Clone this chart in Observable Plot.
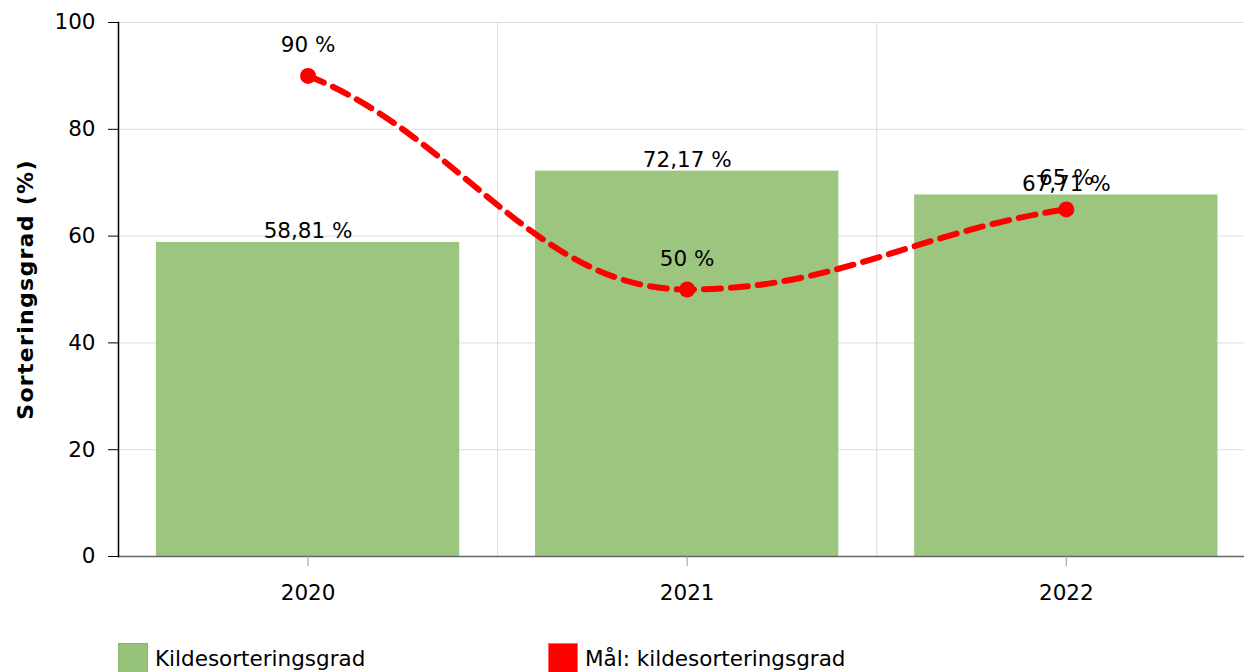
<!DOCTYPE html>
<html><head><meta charset="utf-8">
<script src="https://cdn.jsdelivr.net/npm/d3@7"></script>
<script src="https://cdn.jsdelivr.net/npm/@observablehq/plot@0.6"></script>
<style>
body{margin:0;overflow:hidden;background:#fff;font-family:"DejaVu Sans",Verdana,sans-serif;}
#wrap{position:relative;width:1244px;height:672px;overflow:hidden;}
#legend{position:absolute;top:643px;left:0;width:1244px;height:40px;font-size:21.5px;color:#000;}
.item{position:absolute;display:flex;align-items:center;gap:7px;}
.sw{width:30px;height:30px;box-sizing:border-box;}
.ylab text{letter-spacing:1.3px;}
</style>
</head><body>
<div id="wrap"><div id="chart"></div><div id="legend"></div></div>
<script>
const years = [2020, 2021, 2022];
const actual = [58.81, 72.17, 67.71];
const target = [90, 50, 65];
const yTicks = [0, 20, 40, 60, 80, 100];
const seriesNames = ["Kildesorteringsgrad", "Mål: kildesorteringsgrad"];
const seriesColors = ["#97c279", "#ff0000"];
const yLabel = "Sorteringsgrad (%)";

const data = years.map((y, i) => ({year: y, actual: actual[i], target: target[i]}));
const fmt = v => (Number.isInteger(v) ? String(v) : v.toFixed(2).replace(".", ",")) + " %";
const boundaries = years.slice(1).map(y => y - 0.5);
const FS = 21.5;

// Smooth spline curve (control points at 1/2.5 toward neighbours, flattened at extremes)
function SplineCurve(context) { this._context = context; }
SplineCurve.prototype = {
  areaStart() {}, areaEnd() {},
  lineStart() { this._pts = []; },
  point(x, y) { this._pts.push([+x, +y]); },
  lineEnd() {
    const p = this._pts, c = this._context, n = p.length;
    if (!n) return;
    const s = 1.5, den = s + 1, e = 0.7, L = [], R = [];
    for (let i = 0; i < n; i++) {
      const [x, y] = p[i];
      if (i > 0 && i < n - 1) {
        const [lx, ly] = p[i - 1], [nx, ny] = p[i + 1];
        let lcx = (s * x + lx) / den, lcy = (s * y + ly) / den;
        let rcx = (s * x + nx) / den, rcy = (s * y + ny) / den;
        let corr = 0;
        if (rcx !== lcx) corr = ((rcy - lcy) * (rcx - x)) / (rcx - lcx) + y - rcy;
        lcy += corr; rcy += corr;
        if (lcy > ly && lcy > y) { lcy = Math.max(ly, y); rcy = 2 * y - lcy; }
        else if (lcy < ly && lcy < y) { lcy = Math.min(ly, y); rcy = 2 * y - lcy; }
        if (rcy > ny && rcy > y) { rcy = Math.max(ny, y); lcy = 2 * y - rcy; }
        else if (rcy < ny && rcy < y) { rcy = Math.min(ny, y); lcy = 2 * y - rcy; }
        L[i] = [lcx, lcy]; R[i] = [rcx, rcy];
      } else if (i === 0 && n > 1) {
        const [nx, ny] = p[1];
        R[i] = [x + (nx - x) / den, y + e * (ny - y) / den]; L[i] = [x, y];
      } else if (i === n - 1 && n > 1) {
        const [lx, ly] = p[i - 1];
        L[i] = [x - (x - lx) / den, y - e * (y - ly) / den]; R[i] = [x, y];
      } else { L[i] = [x, y]; R[i] = [x, y]; }
    }
    c.moveTo(p[0][0], p[0][1]);
    for (let i = 1; i < n; i++) c.bezierCurveTo(R[i - 1][0], R[i - 1][1], L[i][0], L[i][1], p[i][0], p[i][1]);
  }
};
const splineCurve = ctx => new SplineCurve(ctx);

const chart = Plot.plot({
  width: 1244, height: 620,
  marginLeft: 118, marginRight: 0, marginTop: 22, marginBottom: 64,
  style: {fontFamily: '"DejaVu Sans", Verdana, sans-serif', fontSize: FS + "px", background: "#fff", overflow: "visible"},
  x: {type: "linear", domain: [years[0] - 0.5, years[years.length - 1] + 0.47], axis: null},
  y: {domain: [0, 100], axis: null},
  marks: [
    Plot.gridY(yTicks.slice(1), {stroke: "#dcdcdc", strokeOpacity: 1}),
    Plot.gridX(boundaries, {stroke: "#dcdcdc", strokeOpacity: 1}),
    Plot.rectY(data, {x1: d => d.year - 0.4, x2: d => d.year + 0.4, y: "actual", fill: seriesColors[0], fillOpacity: 0.95}),
    Plot.text(data, {x: "year", y: "actual", text: d => fmt(d.actual), lineAnchor: "bottom", dy: -4, fontSize: FS, fill: "#000"}),
    Plot.line(data, {x: "year", y: "target", stroke: seriesColors[1], strokeWidth: 6, strokeDasharray: "17,10", curve: splineCurve}),
    Plot.dot(data, {x: "year", y: "target", r: 8, fill: seriesColors[1], stroke: "none"}),
    Plot.text(data, {x: "year", y: "target", text: d => fmt(d.target), lineAnchor: "bottom", dy: -24, fontSize: FS, fill: "#000"}),
    Plot.ruleY([0], {stroke: "#666", strokeWidth: 1.5}),
    Plot.axisX({ticks: years, tickFormat: d => String(d), tickSize: 10, tickPadding: 18, stroke: "#999", fill: "#000", fontSize: FS, anchor: "bottom", label: null}),
    Plot.axisY({ticks: yTicks, tickSize: 10, tickPadding: 13, stroke: "#000", fill: "#000", fontSize: FS, anchor: "left", label: null}),
    Plot.frame({anchor: "left", stroke: "#000", strokeWidth: 1.5}),
    Plot.text([yLabel], {frameAnchor: "left", textAnchor: "middle", rotate: -90, dx: -93, fontWeight: "bold", fontSize: 22, fill: "#000", className: "ylab"})
  ]
});
document.getElementById("chart").appendChild(chart);

const legend = document.getElementById("legend");
const lefts = [118, 548];
seriesNames.forEach((n, i) => {
  const it = document.createElement("div");
  it.className = "item";
  it.style.left = lefts[i] + "px";
  const sw = document.createElement("div");
  sw.className = "sw";
  sw.style.background = seriesColors[i];
  sw.style.border = "1px solid " + (i === 0 ? "#8ab56c" : "#ff6666");
  const t = document.createElement("span");
  t.textContent = n;
  it.appendChild(sw); it.appendChild(t);
  legend.appendChild(it);
});
</script>
</body></html>
